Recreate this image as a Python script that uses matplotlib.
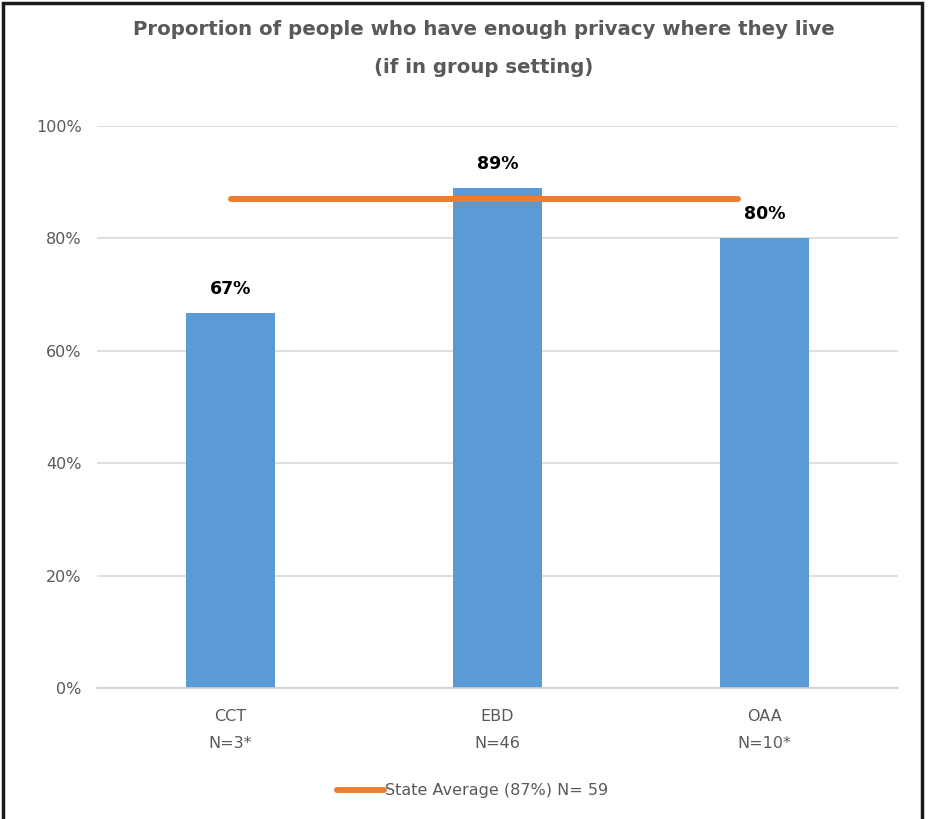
import matplotlib
matplotlib.use("Agg")
import matplotlib.pyplot as plt
from matplotlib.patches import Rectangle
from matplotlib.lines import Line2D

plt.rcParams['font.family'] = ['DejaVu Sans']

# data
categories = ['CCT\nN=3*', 'EBD\nN=46', 'OAA\nN=10*']
values = [66.7, 89, 80]
value_labels = ['67%', '89%', '80%']
state_avg = 87
state_x = [0, 1.9]
yticks = [0, 20, 40, 60, 80, 100]
ytick_labels = ['0%', '20%', '40%', '60%', '80%', '100%']

bar_color = '#5B9BD5'
line_color = '#ED7D31'
text_gray = '#595959'

fig = plt.figure(figsize=(9.3, 8.19), dpi=100)
ax = fig.add_axes([97/930, 131/819, 801/930, 562/819])

x = list(range(len(categories)))
ax.bar(x, values, width=0.333, color=bar_color, zorder=2)
for xi, v, lab in zip(x, values, value_labels):
    ax.annotate(lab, (xi, v), xytext=(0, 17.5), textcoords='offset points',
                ha='center', va='center', fontsize=12.5,
                fontweight='bold', color='black')

ax.plot(state_x, [state_avg, state_avg], color=line_color, lw=4.3,
        solid_capstyle='round', zorder=3)

ax.set_xlim(-0.5, 2.5)
ax.set_ylim(0, 100)
ax.set_yticks(yticks)
ax.set_yticklabels(ytick_labels)
ax.set_xticks(x)
ax.set_xticklabels(categories, linespacing=2.0)
ax.tick_params(axis='both', length=0, colors=text_gray, labelsize=11.5)
ax.tick_params(axis='x', pad=15)
ax.tick_params(axis='y', pad=11)
ax.grid(axis='y', color='#D9D9D9', lw=1.2, zorder=0)
for s in ['top', 'right', 'left']:
    ax.spines[s].set_visible(False)
ax.spines['bottom'].set_color('#D0D0D0')
ax.spines['bottom'].set_linewidth(1.2)

fig.text(0.52, 0.975, 'Proportion of people who have enough privacy where they live\n(if in group setting)',
         ha='center', va='top', fontsize=14.2, fontweight='bold', color=text_gray,
         linespacing=2.25)

handle = Line2D([], [], color=line_color, lw=4.3, solid_capstyle='round')
fig.legend([handle], ['State Average (87%) N= 59'], loc='center',
           bbox_to_anchor=(473/930, 1 - 791/819), frameon=False,
           fontsize=11.5, labelcolor=text_gray, handlelength=2.9,
           handletextpad=0.1)

fig.patches.append(Rectangle((3/930, -0.1), 919/930, 1.1 - 3/819, transform=fig.transFigure,
                             fill=False, edgecolor='#1a1a1a', lw=2.5, clip_on=False))

fig.savefig('out.png', dpi=100)
